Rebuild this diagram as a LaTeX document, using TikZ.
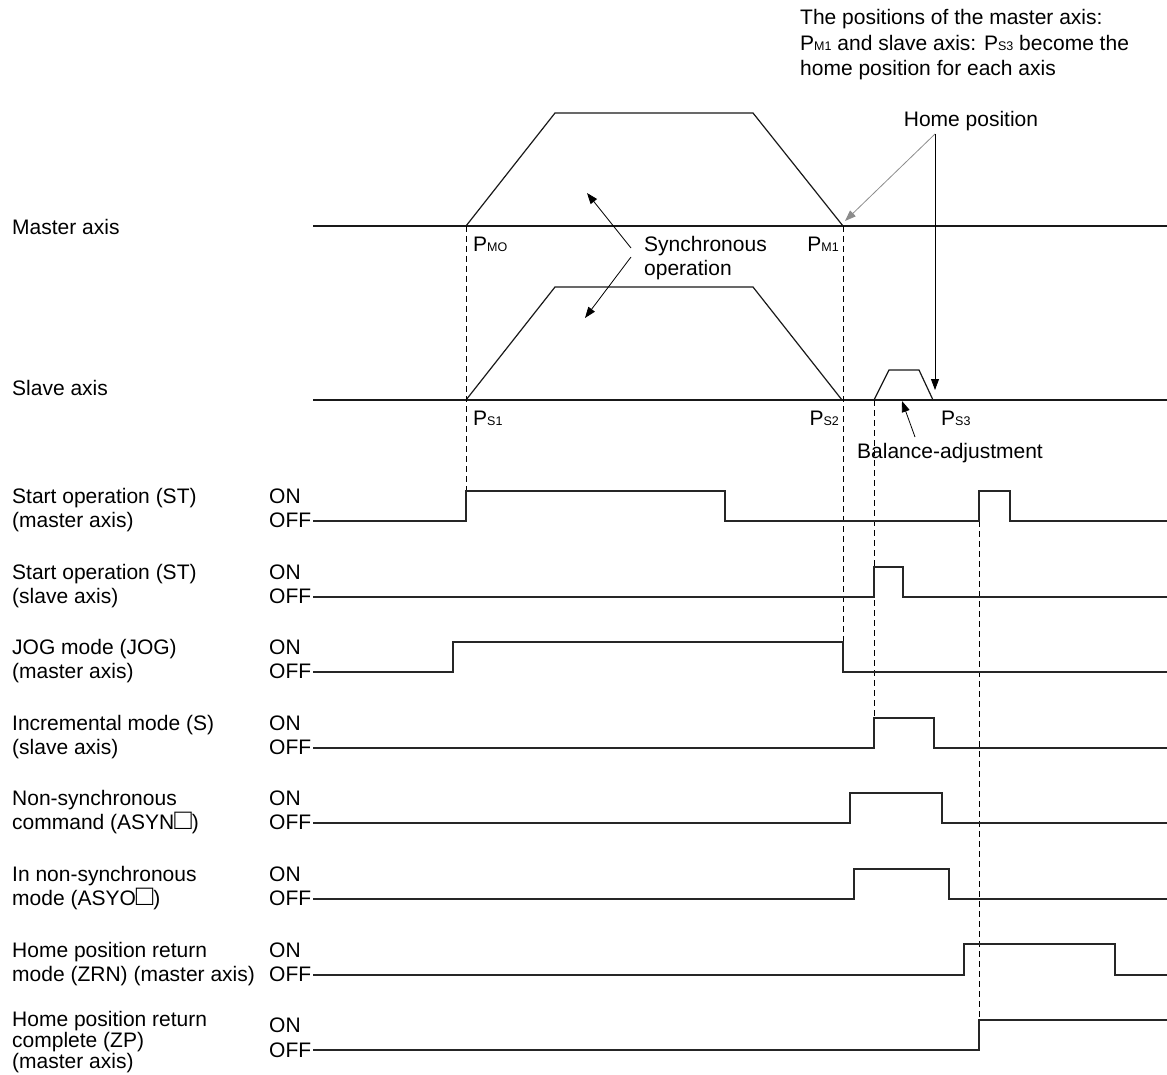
\documentclass[tikz,border=0pt]{standalone}
\usepackage{fontspec}
\setmainfont{Liberation Sans}
\usetikzlibrary{arrows.meta}
\newcommand\smallsub[1]{{\fontsize{12.5}{12}\selectfont #1}}
\newcommand\boxchar{{\fontsize{29}{24}\selectfont □}}
\begin{document}
\begin{tikzpicture}[x=1pt,y=-1pt,
  font=\fontsize{21}{24}\selectfont,
  lbl/.style={inner sep=0pt, anchor=base west, align=left},
  lble/.style={inner sep=0pt, anchor=base east},
  axisline/.style={line width=1.6pt, draw=black!90},
  sig/.style={line width=1.2pt, draw=black!85},
  prof/.style={line width=1.2pt, draw=black!90, line join=miter},
  guide/.style={dash pattern=on 6pt off 4pt, line width=1pt},
  arr/.style={-{Triangle[length=11pt,width=8pt]}, line width=0.8pt},
  garr/.style={arr, draw=black!45}]
\useasboundingbox (0,0) rectangle (1167,1075);

% top notes (base anchor = last line)
\node[lbl, font=\fontsize{21}{25.5}\selectfont] (note) at (800,76)
  {The positions of the master axis:\\P\smallsub{M1} and slave axis: P\smallsub{S3} become the\\home position for each axis};
\node[inner sep=0pt, anchor=base] (hptext) at (971,127) {Home position};
\coordinate (hp) at (935,134);

% axes
\node[lbl] (master) at (12,235) {Master axis};
\node[lbl] (slave) at (12,395) {Slave axis};
\draw[axisline] (313,226) -- (1167,226);
\draw[axisline] (313,400) -- (1167,400);

% profiles
\draw[prof] (466,226) -- (555,113) -- (753,113) -- (843,226);
\draw[prof] (466,400) -- (555,287) -- (753,287) -- (842,400);
\draw[prof] (874,400) -- (889,370) -- (919,370) -- (933,400);

% position labels
\node[lbl] (pm0) at (473,252) {P\smallsub{MO}};
\node[lble] (pm1) at (839,252) {P\smallsub{M1}};
\node[lbl] (ps1) at (473,425) {P\smallsub{S1}};
\node[lble] (ps2) at (839,425) {P\smallsub{S2}};
\node[lbl] (ps3) at (941,425) {P\smallsub{S3}};

% arrows
\coordinate (m1tip) at (845,221);
\coordinate (s3tip) at (935,390);
\draw[garr] (hp) -- (m1tip);
\draw[arr] (hp) -- (s3tip);

\node[lbl] (sync) at (644,276) {Synchronous\\operation};
\coordinate (sy1) at (631,248);
\coordinate (sy2) at (631,257);
\coordinate (sytip1) at (587,193);
\coordinate (sytip2) at (585,318);
\draw[arr] (sy1) -- (sytip1);
\draw[arr] (sy2) -- (sytip2);

\node[lbl] (bal) at (857,458) {Balance-adjustment};
\coordinate (bal0) at (915,437);
\coordinate (baltip) at (902,401);
\draw[arr] (bal0) -- (baltip);

% dashed guides
\draw[guide] (466,226) -- (466,491);
\draw[guide] (843,226) -- (843,642);
\draw[guide] (874,400) -- (874,718);
\draw[guide] (979,521) -- (979,1020);

% row labels (base anchor = last line)
\node[lbl] (r1) at (12,527) {Start operation (ST)\\(master axis)};
\node[lbl] (r2) at (12,603) {Start operation (ST)\\(slave axis)};
\node[lbl] (r3) at (12,678) {JOG mode (JOG)\\(master axis)};
\node[lbl] (r4) at (12,754) {Incremental mode (S)\\(slave axis)};
\node[lbl] (r5) at (12,829) {Non-synchronous\\command (ASYN\boxchar)};
\node[lbl] (r6) at (12,905) {In non-synchronous\\mode (ASYO\boxchar)};
\node[lbl] (r7) at (12,981) {Home position return\\mode (ZRN) (master axis)};
\node[lbl, font=\fontsize{21}{21}\selectfont] (r8) at (12,1068) {Home position return\\complete (ZP)\\(master axis)};

% ON / OFF
\foreach \i/\y in {1/521,2/597,3/672,4/748,5/823,6/899,7/975}{
  \node[lbl] (on\i) at (269,\y-18) {ON};
  \node[lbl] (off\i) at (269,\y+6) {OFF};
}
\node[lbl] (on8) at (269,1032) {ON};
\node[lbl] (off8) at (269,1057) {OFF};

% signals
\draw[sig] (313,521) -- (466,521) -- (466,491) -- (725,491) -- (725,521) -- (979,521) -- (979,491) -- (1010,491) -- (1010,521) -- (1167,521);
\draw[sig] (313,597) -- (874,597) -- (874,567) -- (903,567) -- (903,597) -- (1167,597);
\draw[sig] (313,672) -- (453,672) -- (453,642) -- (843,642) -- (843,672) -- (1167,672);
\draw[sig] (313,748) -- (874,748) -- (874,718) -- (934,718) -- (934,748) -- (1167,748);
\draw[sig] (313,823) -- (850,823) -- (850,793) -- (942,793) -- (942,823) -- (1167,823);
\draw[sig] (313,899) -- (854,899) -- (854,869) -- (949,869) -- (949,899) -- (1167,899);
\draw[sig] (313,975) -- (964,975) -- (964,944) -- (1115,944) -- (1115,975) -- (1167,975);
\draw[sig] (313,1050) -- (979,1050) -- (979,1020) -- (1167,1020);
\end{tikzpicture}
\end{document}
